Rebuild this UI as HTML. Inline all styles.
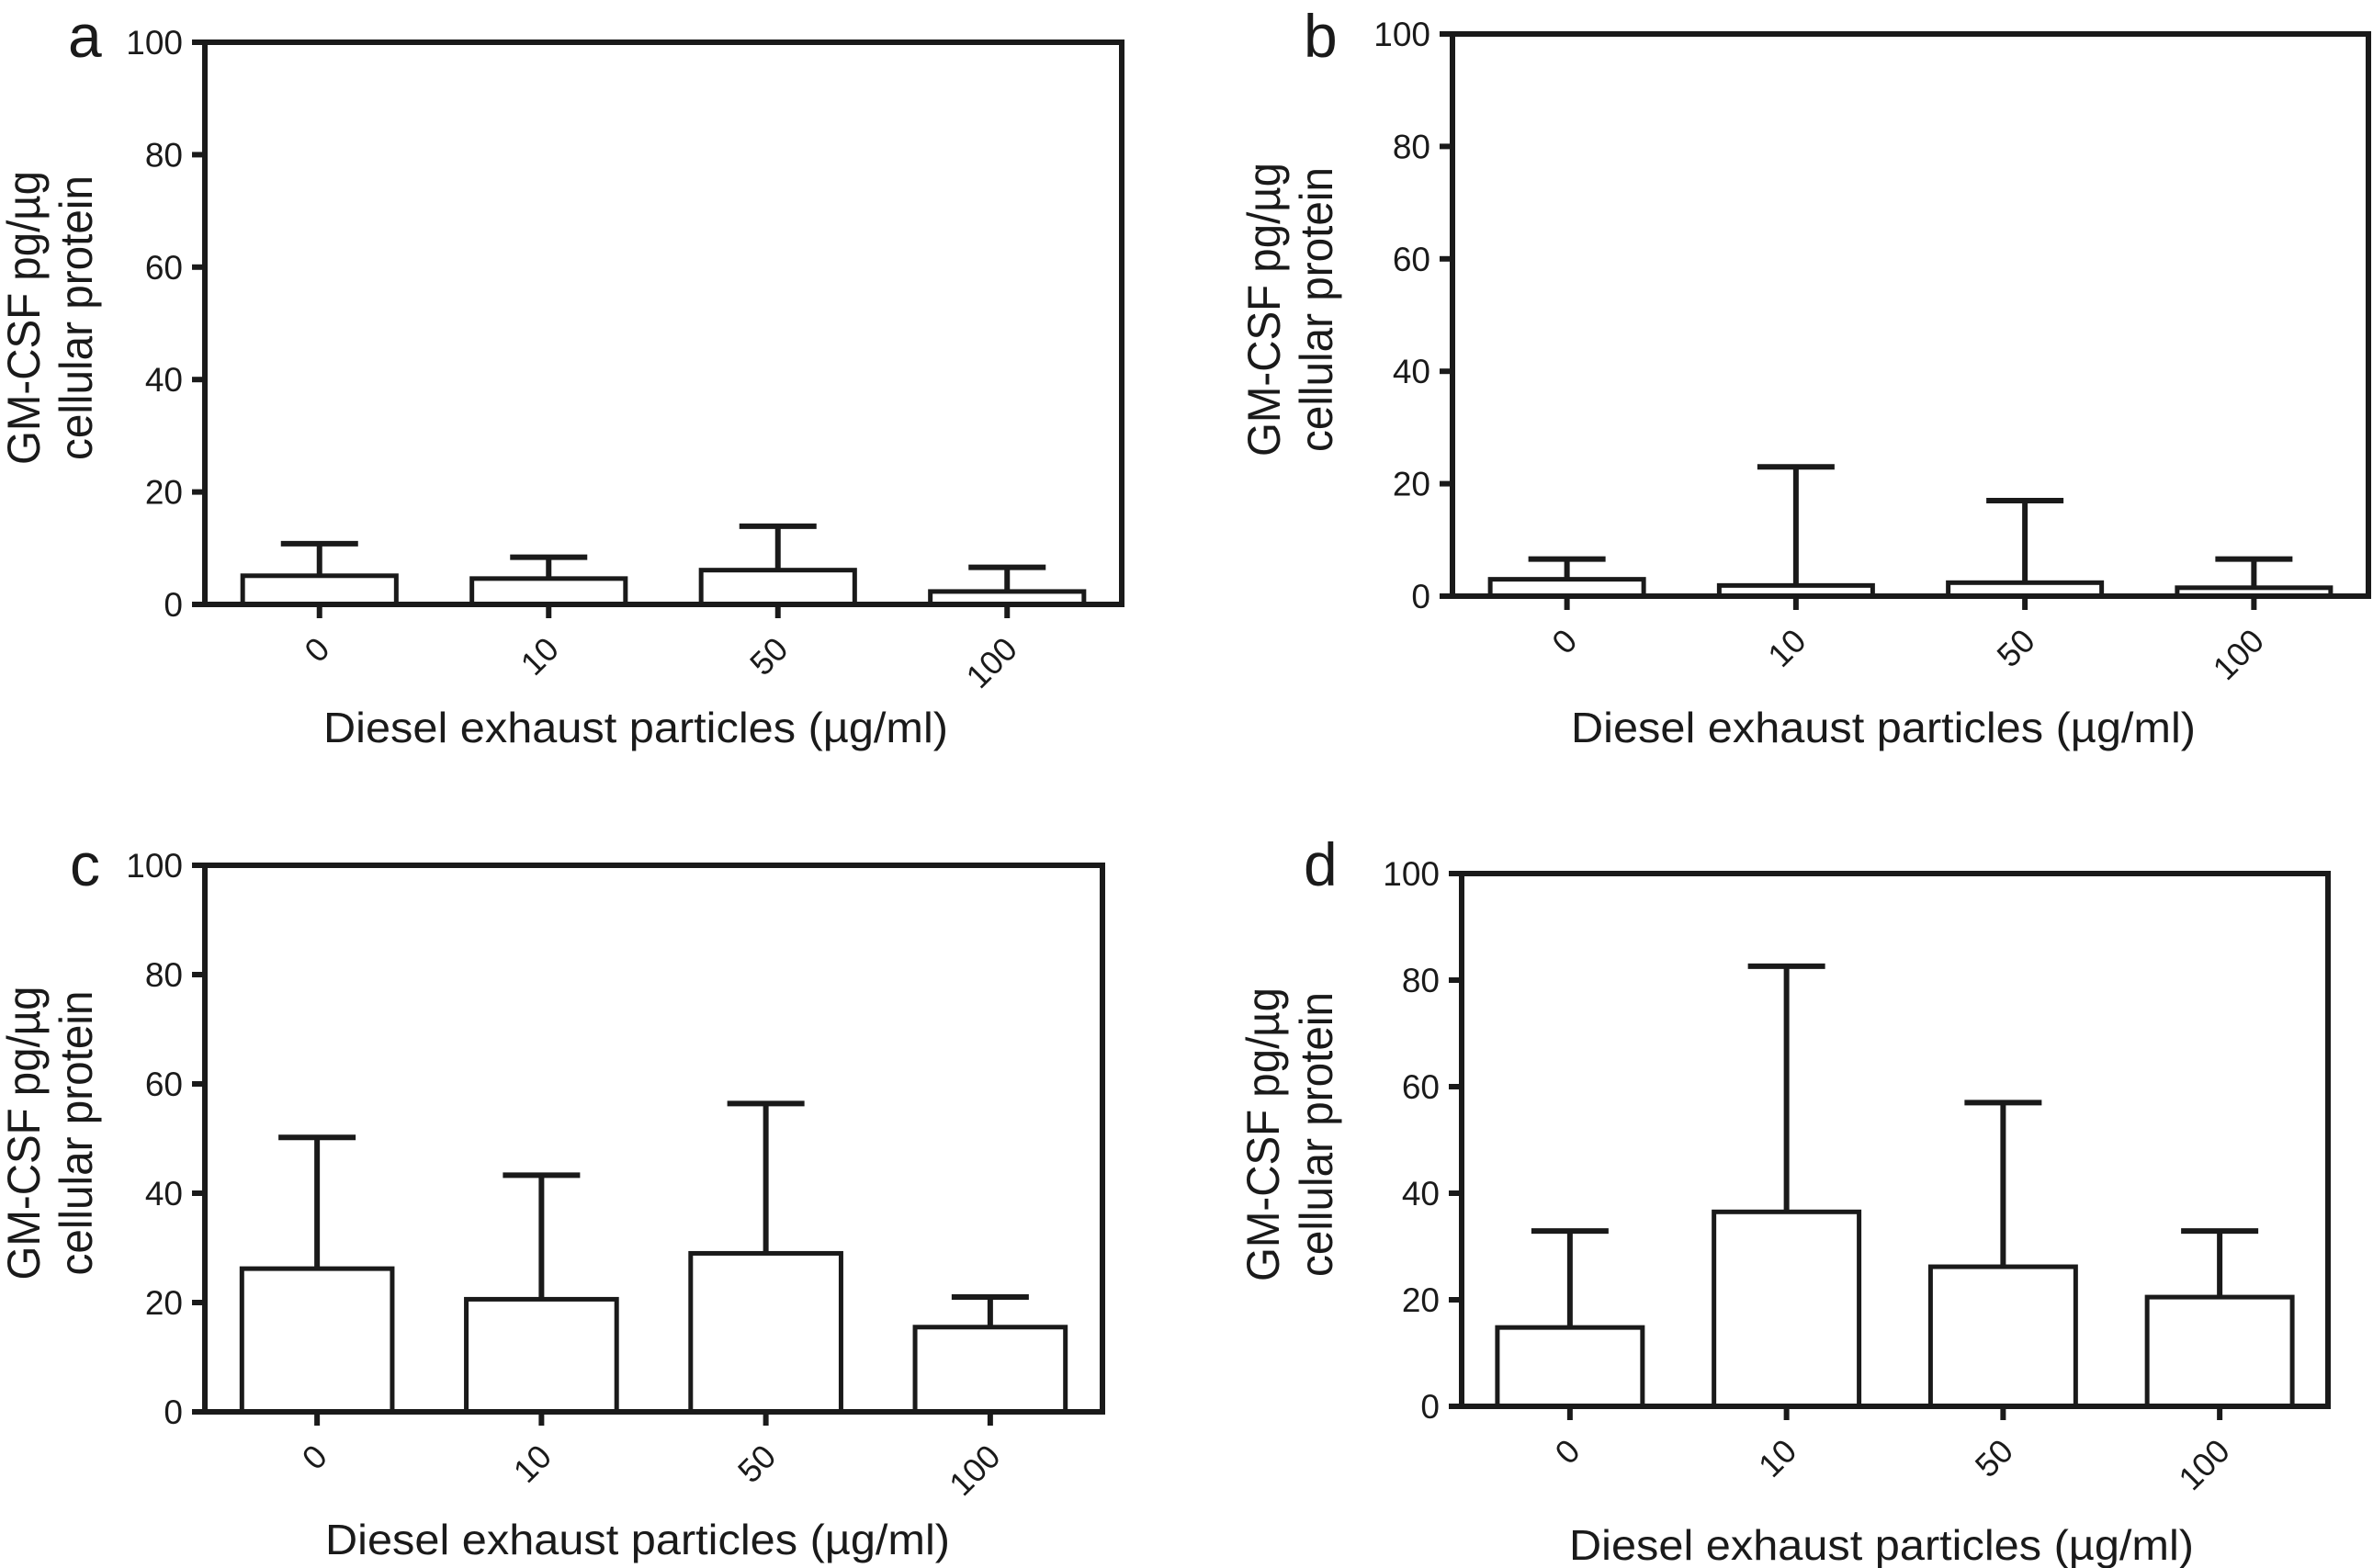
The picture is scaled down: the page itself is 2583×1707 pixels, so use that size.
<!DOCTYPE html>
<html><head><meta charset="utf-8"><style>
html,body{margin:0;padding:0;background:#fff;}
svg{display:block;}
text{font-family:"Liberation Sans",Arial,sans-serif;fill:#1a1a1a;}
</style></head>
<body>
<svg id="fig" width="2583" height="1707" viewBox="0 0 2583 1707" xmlns="http://www.w3.org/2000/svg"></svg>
<script>
// ----- data -----
const categories = ["0", "10", "50", "100"];
const yTicks = [0, 20, 40, 60, 80, 100];
const meanA = [5.1, 4.6, 6.1, 2.3];
const errA  = [10.8, 8.4, 13.9, 6.6];
const meanB = [3.0, 1.9, 2.4, 1.5];
const errB  = [6.6, 23, 17, 6.6];
const meanC = [26.2, 20.6, 29.0, 15.5];
const errC  = [50.2, 43.3, 56.4, 21.0];
const meanD = [14.8, 36.5, 26.2, 20.5];
const errD  = [32.9, 82.6, 57.0, 32.9];
const panelLetters = ["a", "b", "c", "d"];
const yTitle1 = "GM-CSF pg/\u00b5g";
const yTitle2 = "cellular protein";
const xTitle = "Diesel exhaust particles (\u00b5g/ml)";

// ----- layout (pixels) -----
const panels = [
  {id:"a", mean:meanA, err:errA, L:223, R:1221, T:46, B:658, t1:43, t2:100, xtx:692, xty:808, lx:74, ly:62},
  {id:"b", mean:meanB, err:errB, L:1581, R:2578, T:37, B:649, t1:1393, t2:1450, xtx:2050, xty:808, lx:1419, ly:62},
  {id:"c", mean:meanC, err:errC, L:223, R:1200, T:942, B:1537, t1:43, t2:100, xtx:694, xty:1692, lx:76, ly:964},
  {id:"d", mean:meanD, err:errD, L:1591, R:2534, T:951, B:1531, t1:1392, t2:1450, xtx:2048, xty:1698, lx:1419, ly:964}
];
const NS = "http://www.w3.org/2000/svg";
const svg = document.getElementById("fig");
const INK = "#1a1a1a";
function mk(tag, attrs, parent){
  const e = document.createElementNS(NS, tag);
  for (const k in attrs) e.setAttribute(k, attrs[k]);
  parent.appendChild(e);
  return e;
}
panels.forEach((p, pi) => {
  const g = mk("g", {}, svg);
  
  
  const y = v => p.B - (v / 100) * (p.B - p.T);
  const band = (p.R - p.L) / categories.length;
  const xc = i => p.L + band * (i + 0.5);
  const bw = band * 0.67;

  categories.forEach((c, i) => {
    const top = y(p.mean[i]);
    const bar = mk("rect", {x: xc(i) - bw/2, y: top, width: bw, height: p.B - top, fill: "#fff", stroke: INK, "stroke-width": 5}, g);
    
    
    const ey = y(p.err[i]);
    const eg = mk("g", {stroke: INK, "stroke-width": 6}, g);
    
    
    mk("line", {x1: xc(i), x2: xc(i), y1: top, y2: ey}, eg);
    mk("line", {x1: xc(i) - 42, x2: xc(i) + 42, y1: ey, y2: ey}, eg);
  });

  const frame = mk("rect", {x: p.L, y: p.T, width: p.R - p.L, height: p.B - p.T, fill: "none", stroke: INK, "stroke-width": 6}, g);
  
  

  yTicks.forEach(v => {
    mk("line", {x1: p.L - 14, x2: p.L, y1: y(v), y2: y(v), stroke: INK, "stroke-width": 6}, g);
    const t = mk("text", {x: p.L - 24, y: y(v) + 13, "text-anchor": "end", "font-size": 37}, g);
    t.textContent = v;
    
    
  });

  categories.forEach((c, i) => {
    mk("line", {x1: xc(i), x2: xc(i), y1: p.B, y2: p.B + 15, stroke: INK, "stroke-width": 6}, g);
    const px = xc(i) + 13, py = p.B + 51;
    const t = mk("text", {x: px, y: py, "text-anchor": "end", "font-size": 36, transform: "rotate(-45 " + px + " " + py + ")"}, g);
    t.textContent = c;
    
    
  });

  const cy = (p.T + p.B) / 2 - 6;
  const y1 = mk("text", {x: p.t1, y: cy, "text-anchor": "middle", "font-size": 50, textLength: 320, lengthAdjust: "spacingAndGlyphs", transform: "rotate(-90 " + p.t1 + " " + cy + ")"}, g);
  y1.textContent = yTitle1;
  
  
  const y2 = mk("text", {x: p.t2, y: cy, "text-anchor": "middle", "font-size": 50, textLength: 310, lengthAdjust: "spacingAndGlyphs", transform: "rotate(-90 " + p.t2 + " " + cy + ")"}, g);
  y2.textContent = yTitle2;
  
  

  const xt = mk("text", {x: p.xtx, y: p.xty, "text-anchor": "middle", "font-size": 46, textLength: 680, lengthAdjust: "spacingAndGlyphs"}, g);
  xt.textContent = xTitle;
  
  

  const pl = mk("text", {x: p.lx, y: p.ly, "font-size": 66}, g);
  pl.textContent = panelLetters[pi];
  
  
});
</script>
</body></html>
